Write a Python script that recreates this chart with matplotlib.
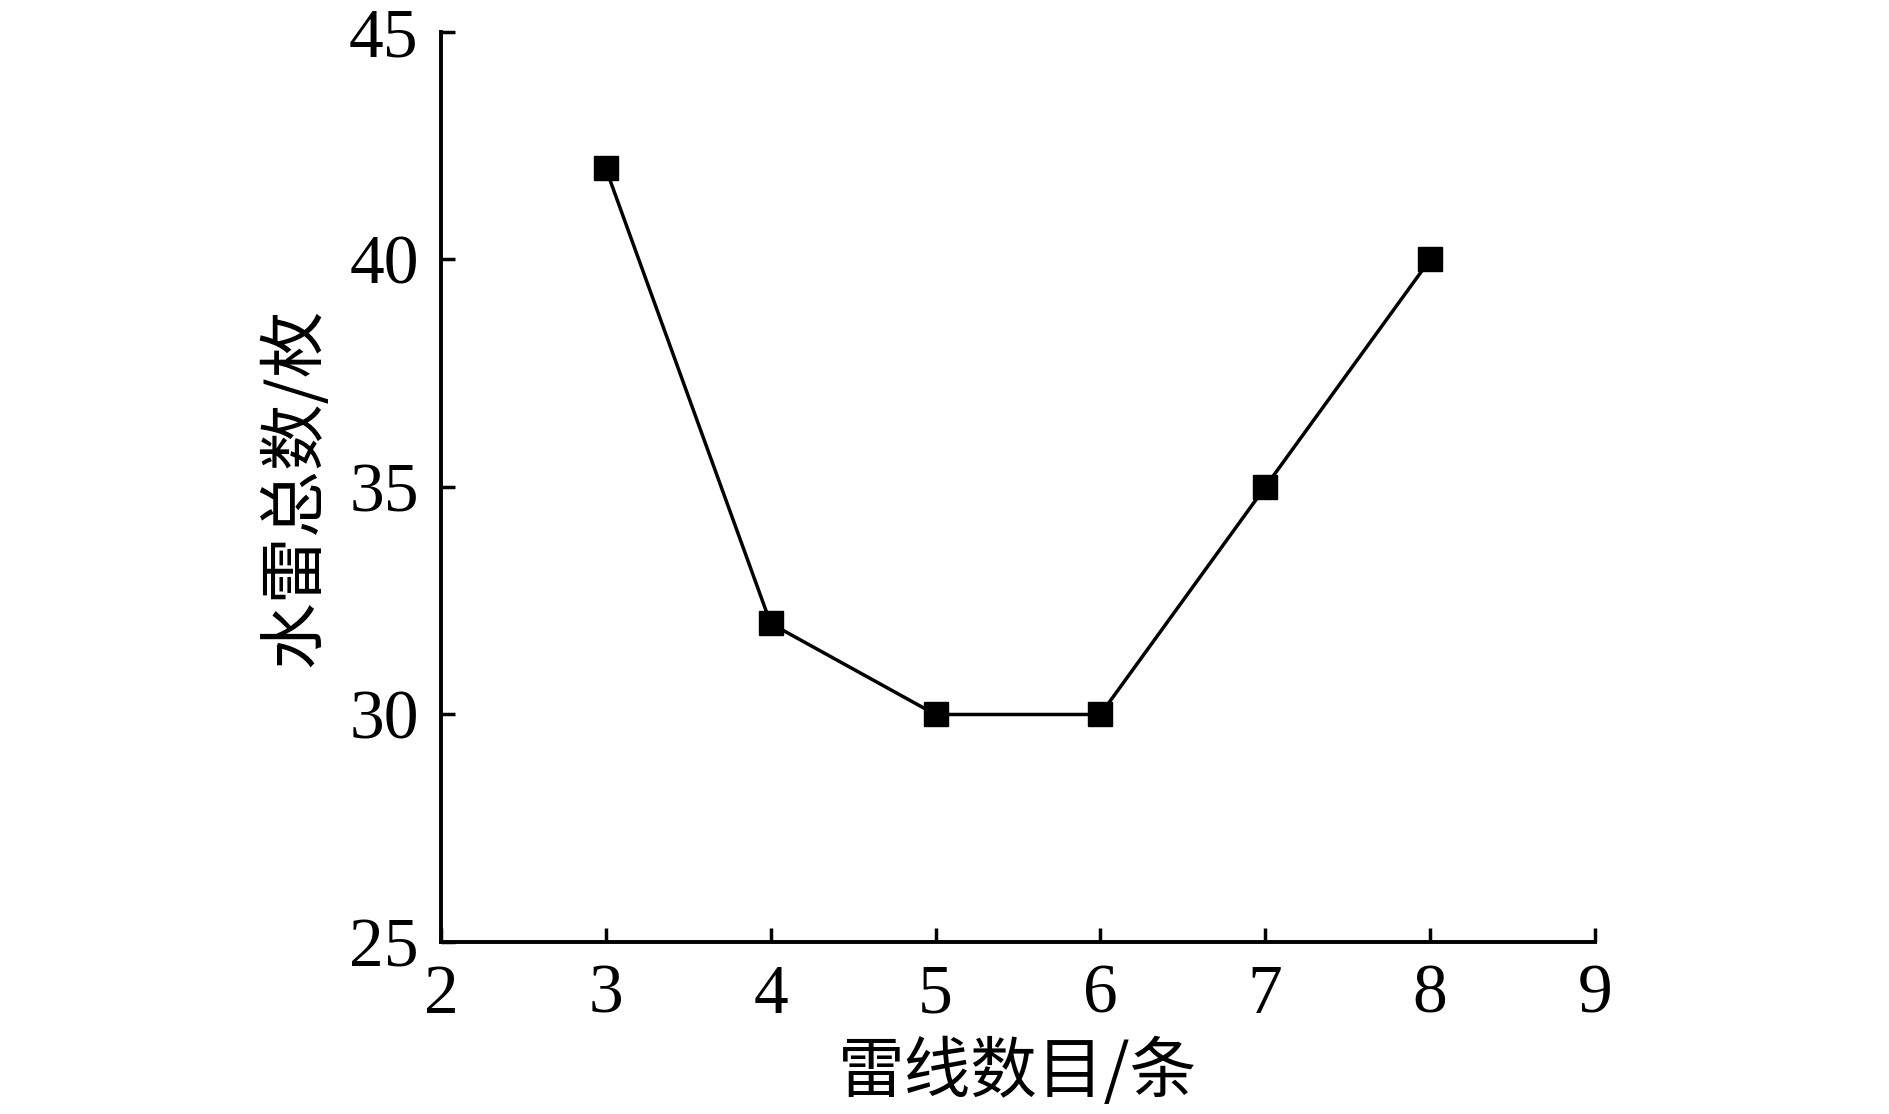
import matplotlib.pyplot as plt

# data
lines = [3, 4, 5, 6, 7, 8]
mines = [42, 32, 30, 30, 35, 40]

x_ticks = [2, 3, 4, 5, 6, 7, 8, 9]
y_ticks = [25, 30, 35, 40, 45]

plt.rcParams['font.family'] = ['Liberation Serif', 'Noto Sans CJK SC']

fig = plt.figure(figsize=(18.9, 11.14), dpi=100)
ax = fig.add_axes([0.2333, 0.1544, 0.6106, 0.8169])

ax.plot(lines, mines, color='black', linewidth=2.5,
        marker='s', markersize=17.5, markerfacecolor='black',
        markeredgecolor='black', clip_on=False)

ax.set_xlim(2, 9)
ax.set_ylim(25, 45)
ax.set_xticks(x_ticks)
ax.set_yticks(y_ticks)

ax.spines['top'].set_visible(False)
ax.spines['right'].set_visible(False)
for s in ['left', 'bottom']:
    ax.spines[s].set_linewidth(2.8)

ax.tick_params(direction='in', length=10, width=2.5, labelsize=50, pad=16)

cjk = ['Noto Sans CJK SC', 'Liberation Serif']
ax.set_xlabel('雷线数目/条', fontsize=48, family=cjk, labelpad=8)
ax.set_ylabel('水雷总数/枚', fontsize=48, family=cjk, labelpad=14)

fig.savefig('out.png', dpi=100)
